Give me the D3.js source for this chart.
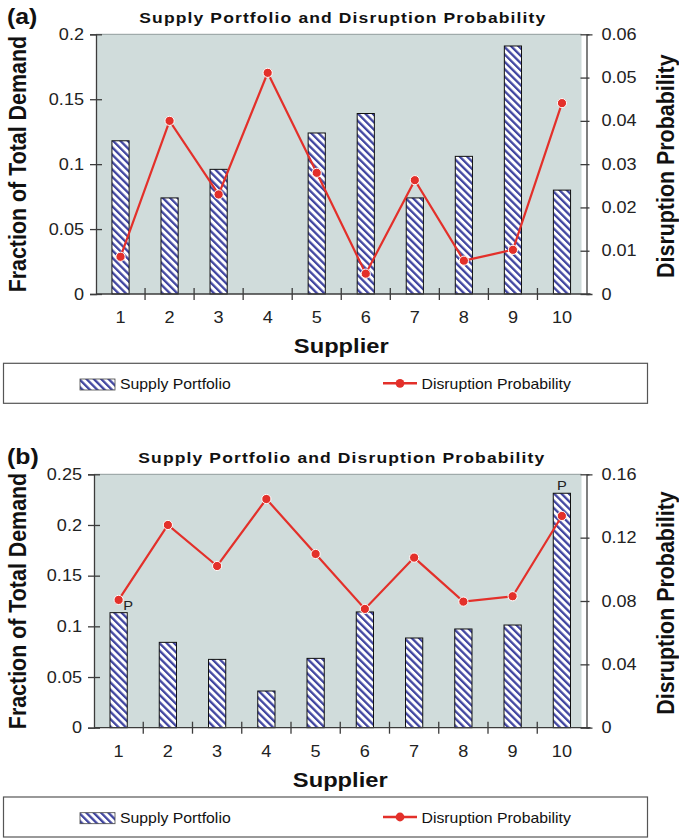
<!DOCTYPE html>
<html>
<head>
<meta charset="utf-8">
<script src="https://cdn.jsdelivr.net/npm/d3@7"></script>
<style>
  html, body { margin: 0; padding: 0; background: #ffffff; }
  svg { display: block; font-family: "Liberation Sans", Arial, sans-serif; }
</style>
</head>
<body>
<svg id="chart" width="679" height="838"></svg>
<script>
// ---------------- DATA ----------------
const suppliers = ["1", "2", "3", "4", "5", "6", "7", "8", "9", "10"];

const supplyA   = [0.118, 0.074, 0.096, 0, 0.124, 0.139, 0.074, 0.106, 0.191, 0.080];
const disruptA  = [0.0086, 0.0400, 0.0230, 0.0511, 0.0280, 0.0047, 0.0263, 0.0077, 0.0102, 0.0441];

const supplyB   = [0.1135, 0.0842, 0.0674, 0.0362, 0.0684, 0.1142, 0.0885, 0.0974, 0.1013, 0.2313];
const disruptB  = [0.0807, 0.1280, 0.1021, 0.1444, 0.1097, 0.0750, 0.1074, 0.0796, 0.0830, 0.1337];
const markB     = ["P", "", "", "", "", "", "", "", "", "P"];

const leftTicksA  = [0, 0.05, 0.1, 0.15, 0.2];
const rightTicksA = [0, 0.01, 0.02, 0.03, 0.04, 0.05, 0.06];
const leftTicksB  = [0, 0.05, 0.1, 0.15, 0.2, 0.25];
const rightTicksB = [0, 0.04, 0.08, 0.12, 0.16];

const chartTitle   = "Supply Portfolio and Disruption Probability";
const leftTitle    = "Fraction of Total Demand";
const rightTitle   = "Disruption Probability";
const xTitle       = "Supplier";
const legendLabels = ["Supply Portfolio", "Disruption Probability"];

// ---------------- STYLE ----------------
const SX = 1.13;             // horizontal stretch of the reference text
const BG = "#d0dcdb";
const AXIS = "#3c3c3c";
const RED = "#e3302a";
const HATCH = "#4045a0";

const svg = d3.select("#chart");

// hatch pattern
const defs = svg.append("defs");
const P = 5.2;
const pat = defs.append("pattern")
  .attr("id", "hatch")
  .attr("patternUnits", "userSpaceOnUse")
  .attr("width", P).attr("height", P)
  .attr("patternTransform", "rotate(-45)");
pat.append("rect").attr("width", P).attr("height", P).attr("fill", "#ffffff");
pat.append("rect").attr("width", 2.3).attr("height", P).attr("fill", HATCH);

function htext(g, x, y, str, size, weight, anchor) {
  return g.append("text")
    .attr("transform", `translate(${x},${y}) scale(${SX},1)`)
    .attr("text-anchor", anchor || "start")
    .attr("font-size", size)
    .attr("font-weight", weight || "normal")
    .attr("fill", "#111")
    .text(str);
}

function panel(cfg) {
  const g = svg.append("g");
  const { left, right, top, bottom } = cfg;

  const x = d3.scaleBand().domain(suppliers).range([left, right]).padding(0);
  const bw = x.bandwidth() * 0.35;
  const yL = d3.scaleLinear().domain([0, d3.max(cfg.leftTicks)]).range([bottom, top]);
  const yR = d3.scaleLinear().domain([0, d3.max(cfg.rightTicks)]).range([bottom, top]);

  // plot background
  g.append("rect")
    .attr("x", left).attr("y", top)
    .attr("width", right - left - 5).attr("height", bottom - top)
    .attr("fill", BG);
  g.append("line")
    .attr("x1", left).attr("x2", right - 5)
    .attr("y1", top).attr("y2", top)
    .attr("stroke", "#8f9b9b").attr("stroke-width", 1);

  // bars
  const cats = suppliers.map((s, i) => ({ s, v: cfg.supply[i], p: cfg.disrupt[i], m: cfg.marks ? cfg.marks[i] : "" , i}));
  g.selectAll("rect.bar")
    .data(cats.filter(d => d.v > 0))
    .join("rect")
    .attr("class", "bar")
    .attr("x", d => x(d.s) + (x.bandwidth() - bw) / 2)
    .attr("width", bw)
    .attr("y", d => yL(d.v))
    .attr("height", d => yL(0) - yL(d.v))
    .attr("fill", "url(#hatch)")
    .attr("stroke", "#111")
    .attr("stroke-width", 1);

  // P marks
  g.selectAll("text.mark")
    .data(cats.filter(d => d.m))
    .join("text")
    .attr("class", "mark")
    .attr("transform", d => {
      const cx = x(d.s) + x.bandwidth() / 2 + (d.i === 0 ? bw * 0.55 : 0);
      return `translate(${cx},${yL(d.v) - 3}) scale(${SX},1)`;
    })
    .attr("text-anchor", "middle")
    .attr("font-size", 13)
    .attr("fill", "#222")
    .text(d => d.m);

  // line + markers
  const line = d3.line()
    .x(d => x(d.s) + x.bandwidth() / 2)
    .y(d => yR(d.p));
  g.append("path")
    .datum(cats)
    .attr("d", line)
    .attr("fill", "none")
    .attr("stroke", RED)
    .attr("stroke-width", 2.2);
  g.selectAll("circle.pt")
    .data(cats)
    .join("circle")
    .attr("class", "pt")
    .attr("cx", d => x(d.s) + x.bandwidth() / 2)
    .attr("cy", d => yR(d.p))
    .attr("r", 4.6)
    .attr("fill", RED)
    .attr("stroke", "#ffffff")
    .attr("stroke-width", 1);

  // left axis
  const gl = g.append("g")
    .attr("transform", `translate(${left},0)`)
    .call(d3.axisLeft(yL).tickValues(cfg.leftTicks).tickFormat(d => String(d)).tickSizeOuter(0).tickSize(6));
  gl.select(".domain").attr("stroke", AXIS).attr("stroke-width", 1.3);
  gl.selectAll(".tick line").attr("x1", 6).attr("x2", -6).attr("stroke", AXIS).attr("stroke-width", 1.3);
  gl.selectAll(".tick text")
    .attr("x", -12 / SX)
    .attr("transform", `scale(${SX},1)`)
    .attr("font-size", 16)
    .attr("font-family", "Liberation Sans, Arial, sans-serif")
    .attr("fill", "#222");

  // right axis
  const gr = g.append("g")
    .attr("transform", `translate(${right},0)`)
    .call(d3.axisRight(yR).tickValues(cfg.rightTicks).tickFormat(d => String(d)).tickSizeOuter(0).tickSize(6));
  gr.select(".domain").attr("stroke", AXIS).attr("stroke-width", 1.3);
  gr.selectAll(".tick line").attr("x1", -6).attr("x2", 3).attr("stroke", AXIS).attr("stroke-width", 1.3);
  gr.selectAll(".tick text")
    .attr("x", 15 / SX)
    .attr("transform", `scale(${SX},1)`)
    .attr("font-size", 16)
    .attr("font-family", "Liberation Sans, Arial, sans-serif")
    .attr("fill", "#222");

  // x axis baseline + boundary ticks
  g.append("line")
    .attr("x1", left).attr("x2", right + 4)
    .attr("y1", bottom).attr("y2", bottom)
    .attr("stroke", AXIS).attr("stroke-width", 1.3);
  const bounds = suppliers.slice(1).map(s => x(s));
  g.selectAll("line.xt")
    .data(bounds)
    .join("line")
    .attr("class", "xt")
    .attr("x1", d => d).attr("x2", d => d)
    .attr("y1", bottom - 6).attr("y2", bottom + 6)
    .attr("stroke", AXIS).attr("stroke-width", 1.3);
  g.selectAll("text.xl")
    .data(suppliers)
    .join("text")
    .attr("class", "xl")
    .attr("transform", d => `translate(${x(d) + x.bandwidth() / 2},${bottom + 29}) scale(${SX},1)`)
    .attr("text-anchor", "middle")
    .attr("font-size", 16)
    .attr("fill", "#222")
    .text(d => d);

  // titles
  htext(g, 7, top - 10.5, cfg.tag, 22, "bold", "start");
  htext(g, (left + right) / 2 + 1, top - 11.8, chartTitle, 15.5, "bold", "middle")
    .attr("textLength", 406 / SX)
    .attr("lengthAdjust", "spacing");
  htext(g, (left + right) / 2, bottom + 59, xTitle, 21, "bold", "middle");

  const cy = (top + bottom) / 2;
  g.append("text")
    .attr("transform", `translate(26,${cy}) scale(${SX},1) rotate(-90)`)
    .attr("text-anchor", "middle")
    .attr("font-size", 21.4)
    .attr("font-weight", "bold")
    .attr("fill", "#111")
    .text(leftTitle);
  g.append("text")
    .attr("transform", `translate(674,${cy + 2}) scale(${SX},1) rotate(-90)`)
    .attr("text-anchor", "middle")
    .attr("font-size", 21.4)
    .attr("font-weight", "bold")
    .attr("fill", "#111")
    .text(rightTitle);

  // legend
  const lt = bottom + 69.3;
  g.append("rect")
    .attr("x", 3.5).attr("y", lt)
    .attr("width", 644).attr("height", 40)
    .attr("fill", "#ffffff")
    .attr("stroke", "#555")
    .attr("stroke-width", 1.2);
  g.append("rect")
    .attr("x", 80).attr("y", lt + 15.7)
    .attr("width", 35).attr("height", 11)
    .attr("fill", "url(#hatch)")
    .attr("stroke", "#444").attr("stroke-width", 0.8);
  htext(g, 120, lt + 26, legendLabels[0], 14, "normal", "start");
  g.append("line")
    .attr("x1", 383).attr("x2", 417)
    .attr("y1", lt + 20).attr("y2", lt + 20)
    .attr("stroke", RED).attr("stroke-width", 2.4);
  g.append("circle")
    .attr("cx", 400).attr("cy", lt + 20).attr("r", 4.4)
    .attr("fill", RED);
  htext(g, 421.5, lt + 25.5, legendLabels[1], 14, "normal", "start");
}

panel({ tag: "(a)", left: 96, right: 586.5, top: 34.3, bottom: 294,
        supply: supplyA, disrupt: disruptA, leftTicks: leftTicksA, rightTicks: rightTicksA });
panel({ tag: "(b)", left: 94, right: 586.5, top: 474.3, bottom: 727.7,
        supply: supplyB, disrupt: disruptB, marks: markB, leftTicks: leftTicksB, rightTicks: rightTicksB });
</script>
</body>
</html>
